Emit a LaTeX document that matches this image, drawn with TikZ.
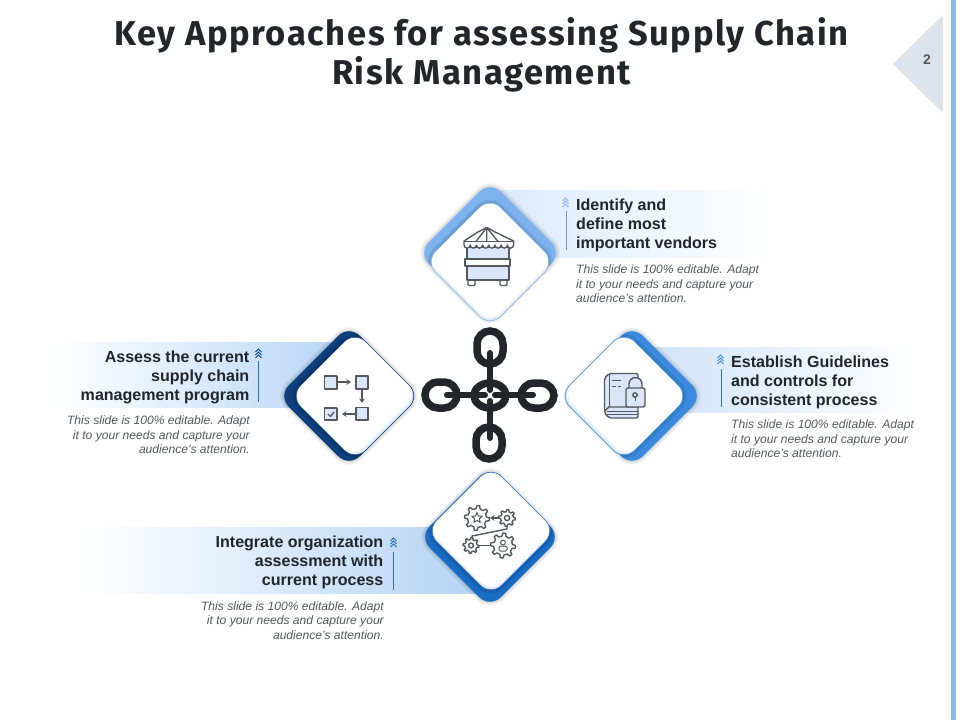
\documentclass[tikz,border=0pt]{standalone}
\usepackage{fontspec}
\setmainfont{Liberation Sans}
\newfontfamily\titlefont[LetterSpace=4.6]{Fira Sans}
\usetikzlibrary{arrows.meta,calc}
\definecolor{icon}{HTML}{55595F}
\definecolor{iconfill}{HTML}{D8E6F8}
\definecolor{cTop}{HTML}{7DB4F0}
\definecolor{cLeft}{HTML}{0F3F7C}
\definecolor{cRight}{HTML}{3A8BE0}
\definecolor{cBottom}{HTML}{1A6CC4}
\definecolor{ink}{HTML}{22252A}
\definecolor{note}{HTML}{55585E}
\definecolor{tint}{HTML}{DCE7F6}
\definecolor{bar}{HTML}{8CB9EC}
\definecolor{tab}{HTML}{DDE3EC}
\definecolor{rule}{HTML}{2F6FAE}
\tikzset{
  head/.style={font=\fontsize{16.05}{19}\selectfont\bfseries,text=ink,inner sep=0pt},
  body/.style={font=\fontsize{12.1}{14.4}\selectfont\itshape,text=note,inner sep=0pt},
  ico/.style={draw=icon,line width=1.4pt,line join=round},
  icf/.style={ico,fill=iconfill},
  link/.style={draw=ink,line width=7.5pt,line cap=round},
  linkbar/.style={draw=ink,line width=6pt,line cap=round},
  arr/.style={ico,-{Stealth[length=4.5pt,width=5.5pt]}}
}
\newcommand\diam[4]{\path[#1,rounded corners=15pt] (#2,#3-#4) -- (#2+#4,#3) -- (#2,#3+#4) -- (#2-#4,#3) -- cycle;}
\newcommand\soft[4]{\foreach \w in {2,4,6,8}{\diam{draw=black,draw opacity=#4,line width=\w pt}{#1}{#2}{#3}}}
% colour, coloured centre, half diagonal, white centre, glow offset
\newcommand\tile[8]{%
  \soft{#2}{#3}{#8}{.035}
  \diam{fill=#1}{#2}{#3}{#8}
  \begin{scope}
    \diam{clip}{#2}{#3}{#8}
    \soft{#4}{#5}{65}{.04}
  \end{scope}
  \begin{scope}
    \diam{clip}{#4}{#5}{65}
    \diam{fill=tint}{#4}{#5}{65}
    \diam{fill=white!50!tint}{#4+#6*.5}{#5+#7*.5}{65}
    \diam{fill=white}{#4+#6}{#5+#7}{65}
  \end{scope}
  \diam{draw=#1,line width=.6pt}{#4}{#5}{65}
}
\newcommand\gearicon[4]{%
  \draw[ico,fill=white,shift={(#1,#2)}] (0:#3)
    \foreach \k in {1,...,#4}{
      -- ({(\k-1)*360/#4+360/#4*.28}:#3) -- ({(\k-1)*360/#4+360/#4*.42}:#3*.76)
      -- ({(\k-1)*360/#4+360/#4*.86}:#3*.76) -- ({\k*360/#4}:#3)
    } -- cycle;
}
\newcommand\chev[3]{%
  \foreach \d in {0,3,6}{\draw[#3,line width=1pt] (#1-3,#2+\d) -- (#1,#2+\d-3) -- (#1+3,#2+\d);}
}
\newcommand\scallop{arc[start angle=180,end angle=0,radius=3.1]}
\begin{document}
\begin{tikzpicture}[x=1pt,y=-1pt]
\useasboundingbox (0,0) rectangle (960,720);
\fill[white] (0,0) rectangle (960,720);
% side bar and page tab
\fill[bar] (951,0) rectangle (956,720);
\fill[tab] (943,15) -- (943,113) -- (893,64) -- cycle;
\node[inner sep=0pt,text=note,font=\fontsize{14}{16}\selectfont\bfseries] (pageno) at (927,60) {2};
% title
\node[inner sep=0pt,align=center,text=ink,font=\fontsize{34.5}{39}\selectfont\titlefont\bfseries] (title) at (481.5,54.5)
  {Key Approaches for assessing Supply Chain\\Risk Management};
% bands
\shade[left color=cTop!28,right color=white] (500,190) rectangle (775,257);
\shade[left color=white,right color=cTop!55] (55,342) rectangle (340,407);
\shade[left color=cRight!25,right color=white] (640,347) rectangle (918,412);
\shade[left color=white,right color=cRight!38] (85,527) rectangle (480,593);
% tiles
\tile{cTop}{490}{253}{490}{262}{0}{-4}{72}
\tile{cLeft}{349}{396}{355}{396}{-3}{-3}{71}
\tile{cRight}{632}{396}{624}{396}{3}{-3}{71}
\tile{cBottom}{490}{537}{491}{531}{0}{-4}{71}
% chain
\draw[linkbar] (490,353) -- (490,390);
\draw[linkbar] (490,401) -- (490,438);
\draw[linkbar] (447,395) -- (485,395);
\draw[linkbar] (495,395) -- (533,395);
\draw[link,rounded corners=13pt] (477,331) rectangle (503,364);
\draw[link,rounded corners=13pt] (476,427) rectangle (502,459);
\draw[link,rounded corners=13pt] (425,382) rectangle (457,408);
\draw[link,rounded corners=13pt] (521,383) rectangle (554,408);
\draw[link] (490,395.5) ellipse (16 and 12.5);
% stall icon
\draw[icf,fill=white,rounded corners=1pt] (468,280) rectangle (475,285.5);
\draw[icf,fill=white,rounded corners=1pt] (500,280) rectangle (507,285.5);
\draw[icf] (467,247) rectangle (509,280);
\draw[ico,fill=white] (465,259) rectangle (510,266);
\draw[ico,fill=white] (486.7,227.5) -- (478,232) -- (464,241) -- (464,245)
  \scallop \scallop \scallop \scallop \scallop \scallop \scallop \scallop
  -- (513.6,241) -- (495,232) -- cycle;
\draw[ico] (464,241.5) -- (513.6,241.5);
\draw[ico] (486.7,227.5) -- (476,241.5) (486.7,227.5) -- (486.7,241.5) (486.7,227.5) -- (498,241.5);
% process icon
\draw[icf] (324.5,376) rectangle (337,389);
\draw[icf] (356,376) rectangle (368,389);
\draw[icf] (324.5,408) rectangle (337,420);
\draw[icf] (356,407.5) rectangle (368,420);
\draw[arr] (338,382) -- (351,382);
\draw[arr] (362,390) -- (362,403);
\draw[arr] (355,414) -- (342,414);
\draw[ico] (328,414) -- (330.5,416.5) -- (334,412);
% book and lock icon
\draw[icf,rounded corners=2pt] (609,373.5) -- (638,373.5) -- (638,418) -- (609,418) -- (604.5,413) -- (604.5,378) -- cycle;
\draw[ico] (604.5,411) -- (609,407) -- (638,407);
\draw[ico,line width=.8pt] (607,411) -- (638,411) (607,414.5) -- (638,414.5);
\draw[ico,line width=.8pt] (609,374) -- (609,407);
\draw[ico,line width=.9pt] (612,380) -- (621,380) (612,386) -- (616,386) (618,386) -- (621,386);
\draw[ico,fill=iconfill] (629,389) -- (629,384) arc[start angle=180,end angle=360,radius=6.5] -- (642,389);
\draw[ico,fill=iconfill,rounded corners=2pt] (626,388) rectangle (645,407);
\draw[ico] (635,395) circle (2.2);
\draw[ico,line width=.9pt] (635,397.2) -- (635,400.5);
% gears icon
\gearicon{477}{518}{12.5}{8}
\draw[ico,line width=1pt,shift={(477,518)}] (-90:5.5) -- (-54:2.4) -- (-18:5.5) -- (18:2.4) -- (54:5.5) -- (90:2.4) -- (126:5.5) -- (162:2.4) -- (198:5.5) -- (234:2.4) -- cycle;
\gearicon{507}{518}{8.5}{8}
\draw[ico] (507,518) circle (2.6);
\draw[arr] (498,518) -- (490,518);
\draw[ico] (507,526.5) -- (507,529) -- (472,536) -- (472,538);
\gearicon{471}{545.5}{8}{8}
\draw[ico] (471,545.5) circle (2.4);
\draw[ico] (479,545.5) -- (491,545.5);
\gearicon{503}{545.5}{12.5}{8}
\draw[ico,line width=1pt] (503,542.5) circle (2.4);
\draw[ico,line width=1pt,rounded corners=1.5pt] (499,551) rectangle (507,546);
% chevrons and rules
\chev{565.5}{201}{cTop}
\draw[cTop!70!note,line width=.6pt] (566,211) -- (566,250);
\chev{720.5}{358}{cRight}
\draw[rule,line width=.7pt] (721,369) -- (721,407);
\chev{258.5}{352}{cLeft}
\draw[rule,line width=.7pt] (258.5,361) -- (258.5,402);
\chev{393.5}{541}{cBottom}
\draw[rule,line width=.7pt] (393.5,552) -- (393.5,590);
% texts
\node[head,anchor=north west,align=left] (t1) at (576,198.5) {Identify and\\define most\\important vendors};
\node[body,anchor=north west,align=left] (b1) at (576,265) {This slide is 100\% editable. Adapt\\it to your needs and capture your\\audience's attention.};
\node[head,anchor=north east,align=right] (t2) at (249.5,350.5) {Assess the current\\supply chain\\management program};
\node[body,anchor=north east,align=right] (b2) at (250,416) {This slide is 100\% editable. Adapt\\it to your needs and capture your\\audience's attention.};
\node[head,anchor=north west,align=left] (t3) at (731,355.5) {Establish Guidelines\\and controls for\\consistent process};
\node[body,anchor=north west,align=left] (b3) at (731,420) {This slide is 100\% editable. Adapt\\it to your needs and capture your\\audience's attention.};
\node[head,anchor=north east,align=right] (t4) at (383.5,535.5) {Integrate organization\\assessment with\\current process};
\node[body,anchor=north east,align=right] (b4) at (384,601.5) {This slide is 100\% editable. Adapt\\it to your needs and capture your\\audience's attention.};
\end{tikzpicture}
\end{document}
